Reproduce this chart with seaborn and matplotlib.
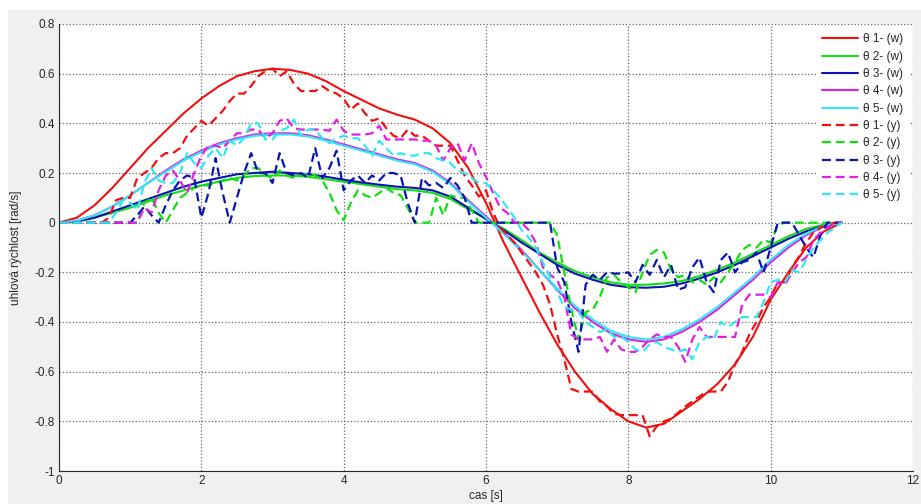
import numpy as np
import pandas as pd
import matplotlib
matplotlib.use("Agg")
import matplotlib.pyplot as plt
from matplotlib.patches import Rectangle
import seaborn as sns

# ---- time bases -------------------------------------------------------
t_w = np.linspace(0, 11, 45)          # model outputs, 0.25 s step
t_y = np.round(np.arange(111) * 0.1, 1)  # measured outputs, 0.1 s step

# ---- angular velocities of the model (w) -------------------------------
w1 = [0, 0.02, 0.07, 0.14, 0.22, 0.30, 0.37, 0.44, 0.50, 0.55, 0.59, 0.61,
      0.62, 0.615, 0.60, 0.57, 0.53, 0.495, 0.46, 0.435, 0.415, 0.38, 0.32,
      0.22, 0.08, -0.08, -0.22, -0.36, -0.49, -0.60, -0.69, -0.75, -0.80,
      -0.825, -0.81, -0.76, -0.71, -0.65, -0.57, -0.46, -0.31, -0.20, -0.10,
      -0.035, 0]
w2 = [0, 0.005, 0.02, 0.04, 0.06, 0.085, 0.11, 0.13, 0.15, 0.165, 0.18,
      0.188, 0.19, 0.19, 0.185, 0.175, 0.165, 0.155, 0.145, 0.135, 0.13,
      0.12, 0.095, 0.055, 0.015, -0.025, -0.07, -0.12, -0.16, -0.195, -0.22,
      -0.24, -0.25, -0.25, -0.245, -0.235, -0.215, -0.19, -0.16, -0.125,
      -0.09, -0.055, -0.025, -0.008, 0]
w3 = [0, 0.005, 0.02, 0.045, 0.07, 0.095, 0.12, 0.145, 0.165, 0.18, 0.195,
      0.20, 0.205, 0.20, 0.195, 0.185, 0.173, 0.162, 0.153, 0.145, 0.14,
      0.13, 0.105, 0.06, 0.015, -0.03, -0.08, -0.125, -0.17, -0.205, -0.23,
      -0.25, -0.26, -0.262, -0.258, -0.245, -0.225, -0.20, -0.17, -0.135,
      -0.10, -0.065, -0.035, -0.012, 0]
w4 = [0, 0.008, 0.03, 0.065, 0.11, 0.16, 0.21, 0.255, 0.29, 0.32, 0.34,
      0.355, 0.36, 0.36, 0.352, 0.335, 0.315, 0.295, 0.275, 0.255, 0.24,
      0.21, 0.16, 0.09, 0.025, -0.04, -0.11, -0.19, -0.27, -0.345, -0.40,
      -0.445, -0.47, -0.48, -0.47, -0.44, -0.40, -0.35, -0.29, -0.23, -0.16,
      -0.10, -0.05, -0.015, 0]
w5 = [0, 0.008, 0.03, 0.065, 0.11, 0.16, 0.205, 0.25, 0.285, 0.315, 0.335,
      0.35, 0.355, 0.355, 0.347, 0.33, 0.31, 0.29, 0.27, 0.25, 0.235, 0.205,
      0.155, 0.085, 0.02, -0.045, -0.115, -0.19, -0.265, -0.335, -0.39,
      -0.435, -0.46, -0.47, -0.46, -0.43, -0.39, -0.34, -0.28, -0.22, -0.15,
      -0.09, -0.045, -0.012, 0]

# ---- measured angular velocities (y) -----------------------------------
y1 = [0, 0, 0, 0, 0, 0, 0, 0.02, 0.09, 0.10,
      0.10, 0.18, 0.20, 0.22, 0.26, 0.28, 0.28, 0.30, 0.35, 0.38,
      0.41, 0.39, 0.42, 0.45, 0.49, 0.52, 0.52, 0.55, 0.59, 0.61,
      0.62, 0.59, 0.61, 0.56, 0.53, 0.53, 0.53, 0.55, 0.53, 0.52,
      0.50, 0.455, 0.48, 0.44, 0.41, 0.42, 0.38, 0.35, 0.34, 0.375,
      0.35, 0.35, 0.33, 0.31, 0.31, 0.31, 0.25, 0.19, 0.15, 0.105,
      0.13, 0.04, -0.02, -0.05, -0.08, -0.12, -0.16, -0.20, -0.25, -0.33,
      -0.45, -0.55, -0.67, -0.68, -0.68, -0.68, -0.72, -0.74, -0.77, -0.775,
      -0.775, -0.775, -0.775, -0.86, -0.82, -0.80, -0.79, -0.765, -0.74, -0.72,
      -0.70, -0.68, -0.68, -0.68, -0.64, -0.57, -0.52, -0.45, -0.40, -0.34,
      -0.30, -0.24, -0.24, -0.18, -0.135, -0.08, -0.04, -0.02, -0.01, 0,
      0]
y2 = [0, 0, 0, 0, 0, 0, 0, 0, 0, 0,
      0, 0, 0.08, 0.10, 0.04, 0.0, 0.05, 0.10, 0.12, 0.14,
      0.15, 0.15, 0.16, 0.17, 0.18, 0.17, 0.19, 0.22, 0.22, 0.19,
      0.18, 0.21, 0.19, 0.18, 0.19, 0.20, 0.19, 0.17, 0.12, 0.05,
      0.01, 0.08, 0.13, 0.11, 0.10, 0.12, 0.14, 0.12, 0.11, 0.06,
      0, 0, 0, 0.10, 0.03, 0.11, 0.10, 0.10, 0.05, 0,
      0, 0, 0, 0, 0, 0, 0, 0, 0, 0,
      -0.05, -0.20, -0.35, -0.47, -0.36, -0.35, -0.30, -0.22, -0.21, -0.24,
      -0.26, -0.28, -0.20, -0.13, -0.11, -0.12, -0.19, -0.22, -0.21, -0.24,
      -0.23, -0.25, -0.22, -0.24, -0.20, -0.16, -0.11, -0.09, -0.10, -0.07,
      -0.08, -0.01, 0, 0, 0, 0, 0, 0, 0, 0,
      0]
y3 = [0, 0, 0, 0, 0, 0, 0, 0, 0, 0,
      0.0, 0.03, 0.065, 0.03, 0.0, 0.07, 0.13, 0.17, 0.19, 0.18,
      0.02, 0.12, 0.26, 0.12, 0.0, 0.10, 0.20, 0.28, 0.20, 0.20,
      0.16, 0.28, 0.20, 0.19, 0.20, 0.18, 0.30, 0.18, 0.22, 0.29,
      0.13, 0.17, 0.19, 0.16, 0.19, 0.17, 0.20, 0.20, 0.19, 0.08,
      0.0, 0.18, 0.15, 0.16, 0.14, 0.18, 0.15, 0.10, 0.0, 0.0,
      0, 0, 0, 0, 0, 0, 0, 0, 0, 0,
      -0.18, -0.24, -0.40, -0.52, -0.25, -0.21, -0.23, -0.20, -0.205, -0.205,
      -0.20, -0.24, -0.17, -0.21, -0.15, -0.22, -0.17, -0.27, -0.26, -0.18,
      -0.14, -0.24, -0.28, -0.15, -0.12, -0.20, -0.16, -0.15, -0.12, -0.20,
      -0.10, 0.0, 0.0, 0.0, -0.05, -0.10, -0.14, -0.05, 0, 0,
      0]
y4 = [0, 0, 0, 0, 0, 0, 0, 0, 0, 0,
      0, 0, 0.06, 0.04, 0.13, 0.19, 0.21, 0.17, 0.12, 0.20,
      0.27, 0.31, 0.31, 0.30, 0.33, 0.36, 0.36, 0.375, 0.375, 0.34,
      0.36, 0.41, 0.42, 0.38, 0.375, 0.375, 0.375, 0.375, 0.37, 0.415,
      0.37, 0.355, 0.355, 0.355, 0.36, 0.39, 0.335, 0.335, 0.335, 0.335,
      0.335, 0.33, 0.33, 0.31, 0.25, 0.30, 0.32, 0.25, 0.32, 0.24,
      0.185, 0.12, 0.06, 0.04, 0.0, 0.0, -0.03, -0.08, -0.18, -0.21,
      -0.23, -0.30, -0.45, -0.47, -0.47, -0.47, -0.46, -0.52, -0.47, -0.51,
      -0.52, -0.52, -0.50, -0.47, -0.45, -0.46, -0.46, -0.50, -0.56, -0.47,
      -0.42, -0.46, -0.46, -0.46, -0.46, -0.46, -0.33, -0.29, -0.29, -0.29,
      -0.30, -0.24, -0.25, -0.20, -0.16, -0.14, -0.07, -0.04, -0.02, 0,
      0]
y5 = [0, 0, 0, 0, 0, 0, 0, 0, 0.04, 0.09,
      0.08, 0.05, 0.16, 0.22, 0.17, 0.16, 0.16, 0.20, 0.28, 0.24,
      0.22, 0.27, 0.30, 0.26, 0.33, 0.31, 0.34, 0.40, 0.40, 0.335,
      0.335, 0.37, 0.38, 0.415, 0.35, 0.375, 0.375, 0.34, 0.32, 0.34,
      0.35, 0.34, 0.34, 0.31, 0.27, 0.33, 0.30, 0.27, 0.28, 0.27,
      0.27, 0.28, 0.28, 0.26, 0.25, 0.24, 0.21, 0.20, 0.18, 0.16,
      0.16, 0.13, 0.10, 0.06, 0.02, -0.03, -0.06, -0.10, -0.16, -0.22,
      -0.28, -0.34, -0.35, -0.36, -0.40, -0.42, -0.44, -0.43, -0.46, -0.46,
      -0.48, -0.51, -0.52, -0.49, -0.48, -0.50, -0.51, -0.52, -0.51, -0.55,
      -0.48, -0.46, -0.47, -0.40, -0.42, -0.40, -0.38, -0.38, -0.38, -0.32,
      -0.24, -0.23, -0.24, -0.19, -0.20, -0.15, -0.10, -0.07, -0.04, -0.02,
      0]

w_series = [w1, w2, w3, w4, w5]
y_series = [y1, y2, y3, y4, y5]
w_labels = ["θ 1- (w)", "θ 2- (w)", "θ 3- (w)", "θ 4- (w)", "θ 5- (w)"]
y_labels = ["θ 1- (y)", "θ 2- (y)", "θ 3- (y)", "θ 4- (y)", "θ 5- (y)"]
colors = ["#f01010", "#10e010", "#0a14b0", "#e020e0", "#30e8f4"]

x_ticks = [0, 2, 4, 6, 8, 10, 12]
y_ticks = [-1, -0.8, -0.6, -0.4, -0.2, 0, 0.2, 0.4, 0.6, 0.8]
y_tick_labels = ["-1", "-0.8", "-0.6", "-0.4", "-0.2", "0", "0.2", "0.4", "0.6", "0.8"]

# ---- styling -------------------------------------------------------------
sns.set_style("white")
plt.rcParams["font.family"] = ["Liberation Sans", "DejaVu Sans"]
plt.rcParams["axes.unicode_minus"] = False

ink = "#262626"
fig = plt.figure(figsize=(9.21, 5.04), dpi=100, facecolor="white")
fig.patches.append(Rectangle((8 / 921, 0), 1, 1 - 10 / 504,
                             transform=fig.transFigure, facecolor="#f0f0f0",
                             edgecolor="none", zorder=-10))
ax = fig.add_axes([59 / 921, 1 - 471 / 504, (913 - 59) / 921, (471 - 24) / 504])
ax.set_facecolor("white")

frames = []
for vals, lab in zip(w_series, w_labels):
    frames.append(pd.DataFrame({"t": t_w, "v": vals, "serie": lab}))
df_w = pd.concat(frames, ignore_index=True)
frames = []
for vals, lab in zip(y_series, y_labels):
    frames.append(pd.DataFrame({"t": t_y, "v": vals, "serie": lab}))
df_y = pd.concat(frames, ignore_index=True)

for lab, col in zip(w_labels, colors):
    sub = df_w[df_w["serie"] == lab]
    sns.lineplot(data=sub, x="t", y="v", color=col, lw=1.5, label=lab,
                 estimator=None, sort=False, ax=ax)
for lab, col in zip(y_labels, colors):
    sub = df_y[df_y["serie"] == lab]
    sns.lineplot(data=sub, x="t", y="v", color=col, lw=1.6, label=lab,
                 estimator=None, sort=False, ax=ax, dashes=False)
    ax.lines[-1].set_dashes((4, 2.2))

ax.set_xlim(0, 12)
ax.set_ylim(-1, 0.8)
ax.set_xticks(x_ticks)
ax.set_xticklabels([str(v) for v in x_ticks])
ax.set_yticks(y_ticks)
ax.set_yticklabels(y_tick_labels)
ax.tick_params(direction="in", length=5, width=0.8, colors=ink, labelsize=8.5,
               top=False, right=False, pad=3)
ax.grid(True, linestyle=":", color="#666666", lw=0.9)
for side in ("top", "right"):
    ax.spines[side].set_visible(False)
for side in ("left", "bottom"):
    ax.spines[side].set_color(ink)
    ax.spines[side].set_linewidth(0.8)

ax.set_xlabel("cas [s]", fontsize=8.5, color=ink, labelpad=2)
ax.set_ylabel("uhlová rýchlost [rad/s]", fontsize=8.5, color=ink, labelpad=9)

leg = ax.legend(loc="upper right", fontsize=8.5, frameon=True, facecolor="white",
                edgecolor="white", framealpha=1, fancybox=False,
                handlelength=3.0, handletextpad=0.5, labelspacing=0.45,
                borderpad=0.4, borderaxespad=0.4)
for txt in leg.get_texts():
    txt.set_color(ink)

fig.savefig("out.png", dpi=100, facecolor=fig.get_facecolor())
